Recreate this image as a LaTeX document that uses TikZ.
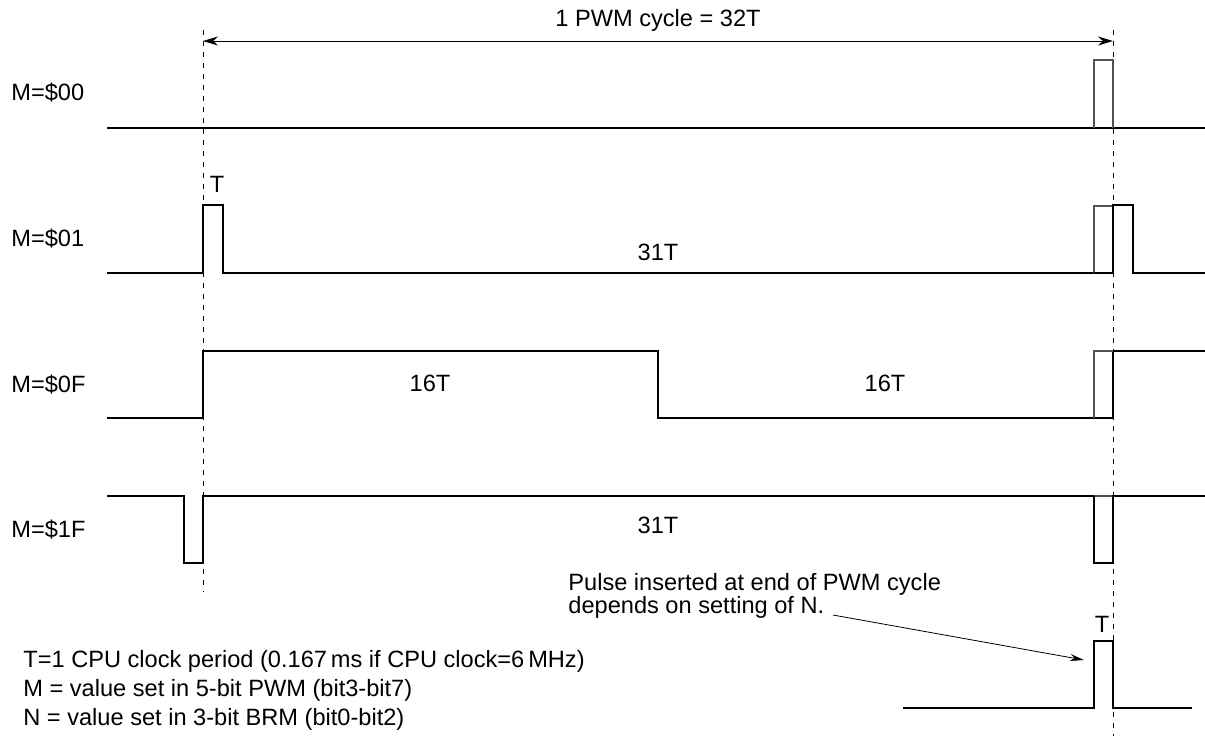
\documentclass[tikz,border=0pt]{standalone}
\usepackage{fontspec}
\setmainfont{Liberation Sans}
\usetikzlibrary{arrows.meta}
\colorlet{ghostcolor}{black!68}

\begin{document}
\begin{tikzpicture}[x=0.5pt, y=-0.5pt, >=Stealth,
    wave/.style={line width=1pt, line join=miter},
    ghost/.style={ghostcolor, line width=0.9pt},
    guide/.style={line width=0.5pt, dash pattern=on 2.5pt off 3pt},
    lbl/.style={font=\fontsize{11.8}{14}\selectfont, inner sep=0pt}]

  % Page of 1205 by 736 units, one unit per pixel of the reference.
  \useasboundingbox (0,0) rectangle (1205,736);

  % Start and end of the cycle.
  \draw[guide] (203,30) -- (203,592);
  \draw[guide] (1113,30) -- (1113,736);

  \coordinate (cycstart) at (203,41);
  \coordinate (cycend) at (1113,41);
  \draw[line width=0.5pt, {Stealth[length=7.5pt, width=4.5pt]}-{Stealth[length=7.5pt, width=4.5pt]}]
    (cycstart) -- (cycend);
  \node[lbl] (cyclbl) at (658,20) {1 PWM cycle = 32T};

  % M=$00
  \node[lbl, anchor=west] (m00) at (11,93) {M=\$00};
  \draw[wave] (107,128) -- (1205,128);
  \draw[ghost] (1094,128) -- (1094,60) -- (1113,60) -- (1113,128);

  % M=$01
  \node[lbl, anchor=west] (m01) at (11,239) {M=\$01};
  \draw[wave] (107,273) -- (203,273) -- (203,205) -- (223,205) -- (223,273) -- (1094,273);
  \draw[ghost] (1094,273) -- (1094,206) -- (1113,206);
  \draw[wave] (1094,273) -- (1113,273) -- (1113,205) -- (1133,205) -- (1133,273) -- (1205,273);
  \node[lbl] (t01) at (217,184) {T};
  \node[lbl] (n01) at (658,252) {31T};

  % M=$0F
  \node[lbl, anchor=west] (m0f) at (11,385) {M=\$0F};
  \draw[wave] (107,418) -- (203,418) -- (203,351) -- (658,351) -- (658,418) -- (1113,418)
    -- (1113,351) -- (1205,351);
  \draw[ghost] (1094,418) -- (1094,351) -- (1113,351);
  \node[lbl] (n0fa) at (430,383) {16T};
  \node[lbl] (n0fb) at (885,383) {16T};

  % M=$1F
  \node[lbl, anchor=west] (m1f) at (11,530) {M=\$1F};
  \draw[wave] (107,496) -- (184,496) -- (184,563) -- (203,563) -- (203,496) -- (1094,496);
  \draw[ghost] (1094,496) -- (1113,496);
  \draw[wave] (1094,496) -- (1094,563) -- (1113,563) -- (1113,496) -- (1205,496);
  \node[lbl] (n1f) at (658,525) {31T};

  % Inserted pulse.
  \draw[wave] (903,708) -- (1094,708) -- (1094,641) -- (1113,641) -- (1113,708) -- (1192,708);
  \node[lbl] (tins) at (1102,624) {T};
  \node[lbl, anchor=west, align=left, font=\fontsize{11.8}{11.5}\selectfont] (note) at (568,596)
    {Pulse inserted at end of PWM cycle\\depends on setting of N.};
  \coordinate (notefrom) at (833,615);
  \coordinate (noteto) at (1084,660);
  \draw[line width=0.4pt, -{Stealth[length=7pt, width=3.5pt]}] (notefrom) -- (noteto);

  % Key.
  \node[lbl, anchor=west, align=left, font=\fontsize{11.8}{14.5}\selectfont] (key) at (23,690)
    {T=1 CPU clock period (0.167\,ms if CPU clock=6\,MHz)\\
     M = value set in 5-bit PWM (bit3-bit7)\\
     N = value set in 3-bit BRM (bit0-bit2)};

\end{tikzpicture}
\end{document}
